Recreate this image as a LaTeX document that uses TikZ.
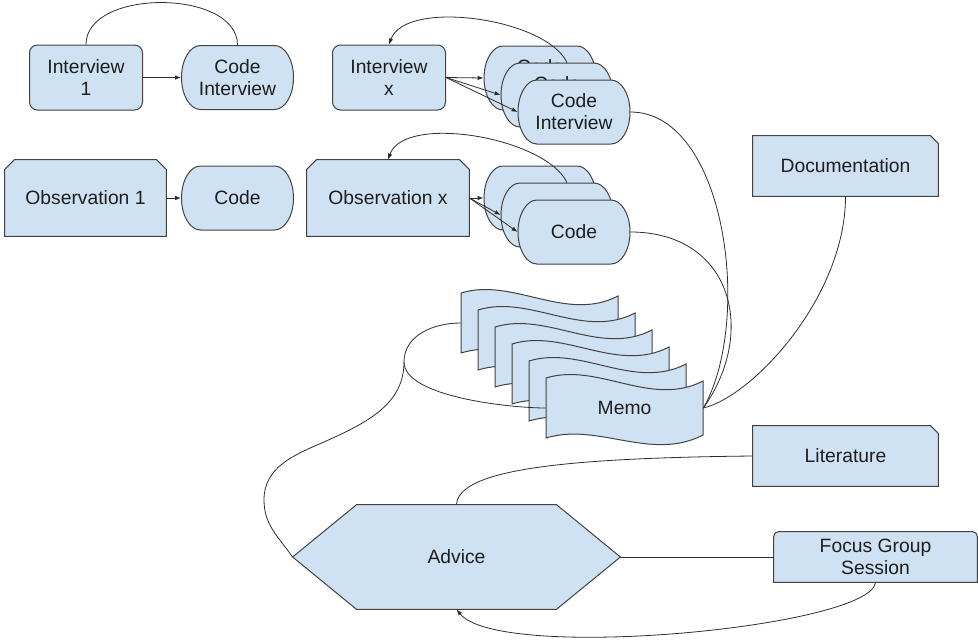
\documentclass[tikz,border=0pt]{standalone}
\usepackage{fontspec}
\setmainfont{Liberation Sans}
\usetikzlibrary{arrows.meta,calc,backgrounds}
\definecolor{ink}{RGB}{30,30,30}
\definecolor{edge}{RGB}{66,66,66}
\definecolor{wire}{RGB}{45,45,45}
\definecolor{paper}{RGB}{207,226,243}
\tikzset{
  every picture/.style={line width=0.8pt, font=\fontsize{19.3}{22}\selectfont},
  box/.style={draw=edge, fill=paper, text=ink, line width=1pt, align=center, inner sep=2pt},
  talk/.style={box, rounded corners=8pt, minimum width=113pt, minimum height=65pt},
  hollow/.style={text=ink, align=center, inner sep=0pt},
  outline/.style={draw=edge, fill=paper, line width=1pt},
  link/.style={color=wire, line width=0.8pt},
  flow/.style={link, -{Latex[length=6pt,width=4.5pt]}},
}
% outlines for nodes that are placed as bare text
\newcommand\snippair[1]{%
  \path[outline] ([xshift=10pt]#1.north west) -- ([xshift=-10pt]#1.north east) -- ([yshift=-10pt]#1.north east)
    -- (#1.south east) -- (#1.south west) -- ([yshift=-10pt]#1.north west) -- cycle;}
\newcommand\snipone[1]{%
  \path[outline] (#1.north west) -- ([xshift=-8pt]#1.north east) -- ([yshift=-8pt]#1.north east)
    -- (#1.south east) -- (#1.south west) -- cycle;}
% terminal shape with flat top and bottom: name, centre, text
\newcommand\codebox[3]{%
  \path[outline] ($(#2)+(-37,-32)$) -- ++(74,0) arc[start angle=90, end angle=-90, x radius=19pt, y radius=32pt]
    -- ++(-74,0) arc[start angle=270, end angle=90, x radius=19pt, y radius=32pt] -- cycle;
  \node[hollow, minimum width=112pt, minimum height=64pt] (#1) at (#2) {#3};}
% one wavy memo sheet: name, top left corner, text
\newcommand\memosheet[3]{%
  \path[outline] (#2) .. controls +(52,-16) and +(-52,27) .. ++(157,3) -- ++(0,54)
    .. controls +(-52,27) and +(52,-16) .. ++(-157,3) -- cycle;
  \node[hollow, minimum width=157pt, minimum height=57pt] (#1) at ($(#2)+(78.5,30)$) {#3};}

\begin{document}
\begin{tikzpicture}[x=1pt, y=-1pt]
  % coordinates are in pixels, measured from the top left corner
  \useasboundingbox (0,0) rectangle (978,640);

  \node[talk] (int1) at (86,77.5) {Interview\\1};
  \codebox{code1}{237.5,77.5}{Code\\Interview}
  \node[hollow, minimum width=161pt, minimum height=76pt] (obs1) at (85.5,198) {Observation 1};
  \codebox{code2}{237.5,198}{Code}

  \node[talk] (intx) at (389,77.5) {Interview\\x};
  \codebox{cix1}{540,78}{Code\\Interview}
  \codebox{cix2}{557,95}{Code\\Interview}
  \codebox{cix3}{574,112}{Code\\Interview}
  \node[hollow, minimum width=162pt, minimum height=76pt] (obsx) at (388,198) {Observation x};
  \codebox{cx1}{540,198}{Code}
  \codebox{cx2}{557,215}{Code}
  \codebox{cx3}{574,232}{Code}

  \node[hollow, minimum width=185pt, minimum height=60pt] (doc) at (845.5,166) {Documentation};
  \node[hollow, minimum width=185pt, minimum height=60pt] (lit) at (845.5,456) {Literature};
  \node[hollow, minimum width=203pt, minimum height=50pt] (focus) at (875.5,557) {Focus Group\\Session};
  \node[hollow, minimum width=327pt, minimum height=104pt] (advice) at (456.5,557) {Advice};

  % memo stack, back to front
  \foreach \k in {0,...,4}{
    \memosheet{memo\k}{461+17*\k,293+17*\k}{}
  }
  \memosheet{memo}{546,378}{Memo}

  \begin{scope}[on background layer]
    \snippair{obs1} \snippair{obsx}
    \snipone{doc} \snipone{lit}
    \path[outline] (focus.south west) -- ([yshift=-5pt]focus.north west) arc[start angle=180, end angle=90, radius=5pt]
      -- ([xshift=-5pt]focus.north east) arc[start angle=90, end angle=0, radius=5pt] -- (focus.south east) -- cycle;
    \path[outline] (advice.west) -- ([xshift=64pt]advice.north west) -- ([xshift=-64pt]advice.north east)
      -- (advice.east) -- ([xshift=-64pt]advice.south east) -- ([xshift=64pt]advice.south west) -- cycle;
  \end{scope}

  \draw[flow] (int1.east) -- (code1.west);
  \draw[link] (int1.north) to[out=90, in=90, looseness=0.95] (code1.north);
  \draw[flow] (obs1.east) -- (code2.west);

  \draw[flow] (intx.east) -- (cix1.west);
  \draw[flow] (intx.east) -- (cix2.west);
  \draw[flow] (intx.east) -- (cix3.west);
  \draw[flow] ([xshift=10pt]cix2.north) to[out=115, in=70, looseness=0.7] (intx.north);
  \draw[flow] (obsx.east) -- (cx1.west);
  \draw[flow] (obsx.east) -- (cx2.west);
  \draw[flow] (obsx.east) -- (cx3.west);
  \draw[flow] ([xshift=10pt]cx2.north) to[out=115, in=70, looseness=0.7] (obsx.north);

  \draw[link] (cix3.east) .. controls +(95,0) and +(50,-88) .. (memo.east);
  \draw[link] (cx3.east) .. controls +(100,0) and +(55,-78) .. (memo.east);
  \draw[link] (doc.south) .. controls +(0,100) and +(50,-12) .. (memo.east);

  \coordinate (fold) at (404,362);
  \draw[link] (advice.west) to[out=125, in=-90] (264,500) to[out=90, in=205] (335,437) to[out=25, in=-90] (fold);
  \draw[link] (fold) to[out=90, in=180] (memo0.west);
  \draw[link] (fold) to[out=-90, in=180, looseness=0.6] (memo.west);

  \draw[link] (lit.west) .. controls +(-190,2) and +(2,-35) .. (advice.north);
  \draw[link] (advice.east) -- (focus.west);
  \draw[flow] (focus.south) .. controls +(-5,45) and +(43,53) .. (advice.south);
\end{tikzpicture}
\end{document}
